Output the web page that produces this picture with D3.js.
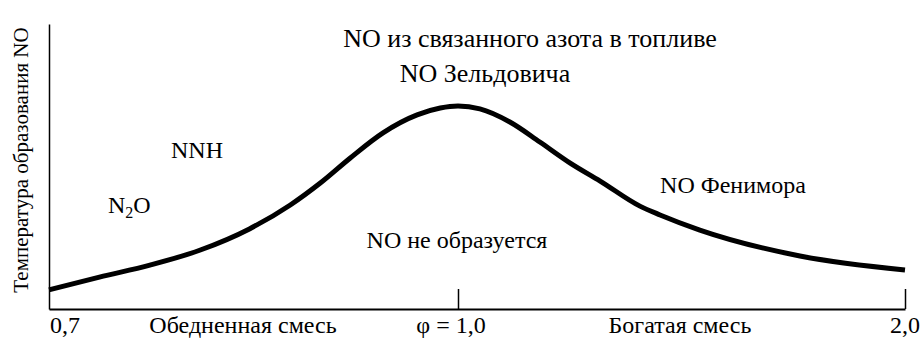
<!DOCTYPE html>
<html lang="ru">
<head>
  <meta charset="UTF-8">
  <title>Температура образования NO</title>
  <script src="https://d3js.org/d3.v7.min.js"></script>
  <style>
    body { margin: 0; background: #fff; }
  </style>
</head>
<body>
<script>
  // equivalence ratio (phi) and relative temperature
  var phi  = [0.700, 0.737, 0.774, 0.811, 0.847, 0.877, 0.899, 0.921, 0.945, 0.970, 0.987, 1.000,
              1.049, 1.116, 1.183, 1.251, 1.318, 1.407, 1.452, 1.541, 1.765, 2.000]
  var temp = [0.067, 0.112, 0.154, 0.207, 0.281, 0.365, 0.442, 0.530, 0.618, 0.681, 0.705, 0.712,
              0.702, 0.656, 0.586, 0.512, 0.449, 0.361, 0.330, 0.277, 0.186, 0.137]

  var xTicks = [1.0, 2.0]
  var xLabels = ['0,7', 'Обедненная смесь', 'φ = 1,0', 'Богатая смесь', '2,0']
  var regionLabels = ['NO из связанного азота в топливе', 'NO Зельдовича', 'NNH',
                      'NO Фенимора', 'NO не образуется']
  var yTitle = 'Температура образования NO'

  var FONT = 'Liberation Serif, serif'
  var width = 923, height = 347
  var svg = d3.select('body').append('svg').attr('width', width).attr('height', height)
    .attr('font-family', FONT)

  // x is not linear in phi: lean side is stretched
  var x = d3.scaleLinear().domain([0.7, 1.0, 2.0]).range([49, 458, 905])
  var y = d3.scaleLinear().domain([0, 1]).range([309, 24])

  // axes
  var xAxis = d3.axisBottom(x).tickValues(xTicks).tickSizeInner(-20).tickSizeOuter(0).tickFormat('')
  var gx = svg.append('g').attr('transform', 'translate(0,' + y(0) + ')').call(xAxis)
  gx.select('.domain').attr('stroke', '#000').attr('stroke-width', 2)
  gx.selectAll('.tick line').attr('stroke', '#000').attr('stroke-width', 1.5)

  var yAxis = d3.axisLeft(y).tickValues([]).tickSizeOuter(0)
  var gy = svg.append('g').attr('transform', 'translate(' + x(0.7) + ',0)').call(yAxis)
  gy.select('.domain').attr('stroke', '#000').attr('stroke-width', 1.5)

  // curve
  var line = d3.line()
    .x(function (d, i) { return x(phi[i]) })
    .y(function (d, i) { return y(temp[i]) })
    .curve(d3.curveMonotoneX)
  svg.append('path').datum(phi).attr('d', line)
    .attr('fill', 'none').attr('stroke', '#000').attr('stroke-width', 5)

  // bottom labels
  var xLabelPos = [
    { x: x(0.7) + 1, anchor: 'start' },
    { x: 243, anchor: 'middle' },
    { x: x(1.0) - 7, anchor: 'middle' },
    { x: 680, anchor: 'middle' },
    { x: x(2.0) + 15, anchor: 'end' }
  ]
  svg.selectAll('.xlab').data(xLabels).enter().append('text')
    .attr('class', 'xlab')
    .attr('x', function (d, i) { return xLabelPos[i].x })
    .attr('y', 333)
    .attr('text-anchor', function (d, i) { return xLabelPos[i].anchor })
    .attr('font-family', FONT).attr('font-size', 24)
    .text(function (d) { return d })

  // region labels: x, baseline, font size
  var regionPos = [[530, 47, 26], [485, 82, 26], [197, 158, 24], [733, 193, 24], [457, 248, 24]]
  svg.selectAll('.reg').data(regionLabels).enter().append('text')
    .attr('class', 'reg')
    .attr('x', function (d, i) { return regionPos[i][0] })
    .attr('y', function (d, i) { return regionPos[i][1] })
    .attr('text-anchor', 'middle')
    .attr('font-family', FONT)
    .attr('font-size', function (d, i) { return regionPos[i][2] })
    .text(function (d) { return d })

  // N2O with subscript
  var n2o = svg.append('text').attr('x', 108).attr('y', 213)
    .attr('font-family', FONT).attr('font-size', 24)
  n2o.append('tspan').text('N')
  n2o.append('tspan').attr('dy', 5).attr('font-size', 16).text('2')
  n2o.append('tspan').attr('dy', -5).text('O')

  // y title
  svg.append('text')
    .attr('transform', 'translate(28,160) rotate(-90)')
    .attr('text-anchor', 'middle')
    .attr('font-family', FONT).attr('font-size', 21)
    .text(yTitle)
</script>
</body>
</html>
